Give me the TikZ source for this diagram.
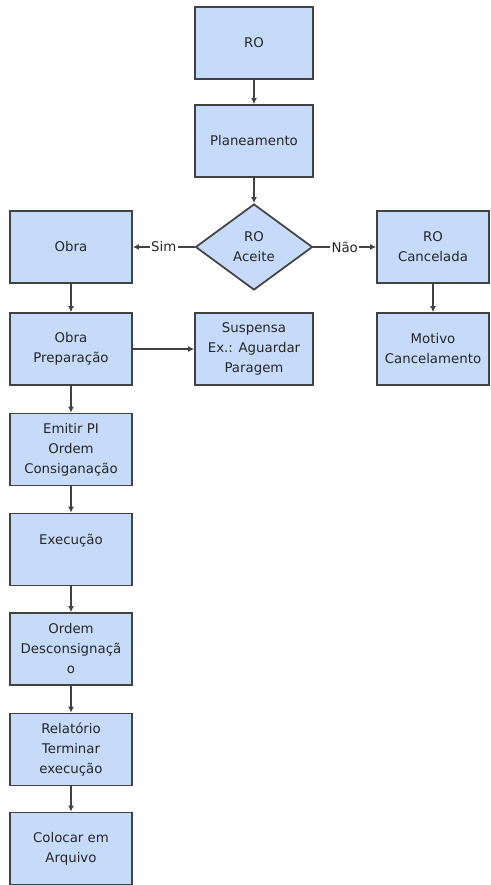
\documentclass[tikz,border=0pt]{standalone}
\usepackage{fontspec}
\setmainfont{DejaVu Sans}
\usetikzlibrary{shapes.geometric,arrows.meta}
\definecolor{ROblue}{RGB}{198,218,250}
\definecolor{ROgray}{RGB}{66,66,66}
\tikzset{
    stepbox/.style={draw=ROgray, line width=1.3pt, fill=ROblue, minimum width=91.5pt, minimum height=54pt, inner sep=1pt, align=center, text=black!85, font=\fontsize{10}{15}\selectfont},
    midbox/.style={stepbox, minimum width=88.5pt},
    sidebox/.style={stepbox, minimum width=84pt},
    decision/.style={diamond, aspect=1.36, draw=ROgray, line width=1.3pt, fill=ROblue, minimum width=87.75pt, minimum height=64.5pt, inner sep=0pt, align=center, text=black!85, font=\fontsize{10}{15}\selectfont},
    flow/.style={draw=ROgray, line width=1.3pt, -{Latex[length=4.5pt,width=4.5pt]}},
    answer/.style={fill=white, inner sep=1pt, text=black!85, font=\fontsize{10}{12}\selectfont}
}
\begin{document}
\begin{tikzpicture}[x=0.75pt, y=-0.75pt]
\useasboundingbox (0,0) rectangle (490,885);
%Top
\node[midbox] (ro) at (254,43) {RO};
\node[midbox] (plan) at (254,141) {Planeamento};
\node[decision] (aceite) at (254,247) {RO\\Aceite};
%Left column
\node[stepbox] (obra) at (71,247) {Obra};
\node[stepbox] (prep) at (71,349) {Obra\\Preparação};
\node[stepbox] (emitir) at (71,449.5) {Emitir PI\\Ordem\\Consiganação};
\node[stepbox] (exec) at (71,549.5) {Execução\\\mbox{}};
\node[stepbox] (descons) at (71,649) {Ordem\\Desconsignaçã\\o};
\node[stepbox] (relat) at (71,749.5) {Relatório\\Terminar\\execução};
\node[stepbox] (arquivo) at (71,848.5) {Colocar em\\Arquivo};
%Middle and right
\node[midbox] (susp) at (254,349) {Suspensa\\Ex.: Aguardar\\Paragem};
\node[sidebox] (canc) at (433,247) {RO\\Cancelada};
\node[sidebox] (motivo) at (433,349) {Motivo\\Cancelamento};

\draw[flow] (ro) -- (plan);
\draw[flow] (plan) -- (aceite);
\draw[flow] (aceite.west) -- node[answer] {Sim} (obra.east);
\draw[flow] (aceite.east) -- node[answer] {Não} (canc.west);
\draw[flow] (canc) -- (motivo);
\draw[flow] (obra) -- (prep);
\draw[flow] (prep) -- (susp);
\draw[flow] (prep) -- (emitir);
\draw[flow] (emitir) -- (exec);
\draw[flow] (exec) -- (descons);
\draw[flow] (descons) -- (relat);
\draw[flow] (relat) -- (arquivo);
\end{tikzpicture}
\end{document}
